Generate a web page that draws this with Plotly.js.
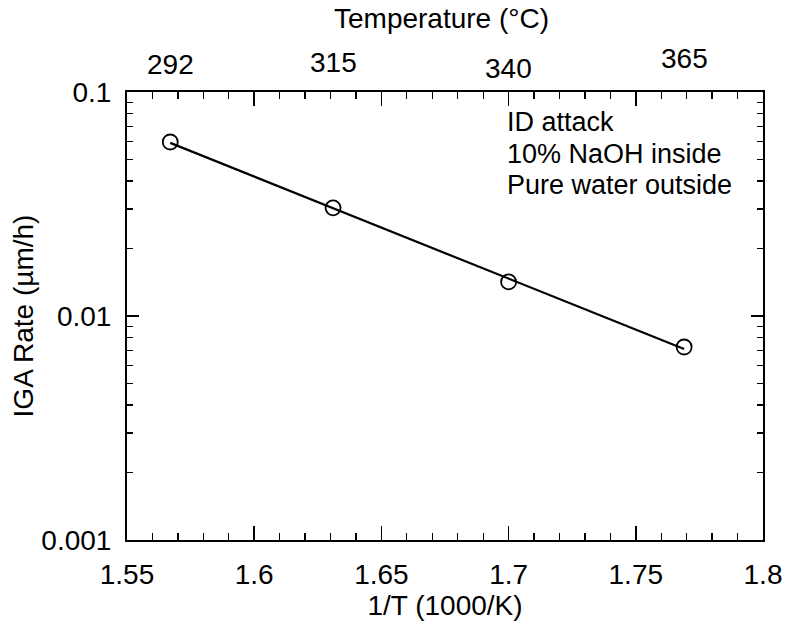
<!DOCTYPE html>
<html>
<head>
<meta charset="utf-8">
<script src="https://cdn.plot.ly/plotly-3.0.1.min.js"></script>
<style>html,body{margin:0;padding:0;background:#fff;}#chart{width:793px;height:625px;}</style>
</head>
<body>
<div id="chart"></div>
<script>
// Data
const invT = [1.567, 1.631, 1.700, 1.769];          // 1/T (1000/K)
const igaRate = [0.0598, 0.0304, 0.0142, 0.00727];   // IGA rate (µm/h)
const topTempLabels = ['292', '315', '340', '365'];  // labels on top axis, as printed
const xTickVals = [1.55, 1.6, 1.65, 1.7, 1.75, 1.8];
const xTickText = ['1.55', '1.6', '1.65', '1.7', '1.75', '1.8'];
const yTickVals = [0.001, 0.01, 0.1];
const yTickText = ['0.001', '0.01', '0.1'];
const yMinorVals = [0.002,0.003,0.004,0.005,0.006,0.007,0.008,0.009,0.02,0.03,0.04,0.05,0.06,0.07,0.08,0.09];
const noteLines = ['ID attack', '10% NaOH inside', 'Pure water outside'];

// log-linear least squares fit line
const ly = igaRate.map(v => Math.log10(v));
const n = invT.length;
const mx = invT.reduce((a,b)=>a+b,0)/n, my = ly.reduce((a,b)=>a+b,0)/n;
let sxy = 0, sxx = 0;
for (let i=0;i<n;i++){ sxy += (invT[i]-mx)*(ly[i]-my); sxx += (invT[i]-mx)**2; }
const slope = sxy/sxx, icpt = my - slope*mx;
const fitX = [Math.min(...invT), Math.max(...invT)];
const fitY = fitX.map(x => Math.pow(10, icpt + slope*x));

const font = 'Liberation Sans, Arial, Helvetica, sans-serif';
const FS = 28;
const traces = [
  {x: fitX, y: fitY, mode: 'lines', line: {color: '#000', width: 2.2}, hoverinfo: 'skip', showlegend: false},
  {x: invT, y: igaRate, mode: 'markers', marker: {symbol: 'circle-open', size: 15, color: '#000', line: {width: 1.8, color: '#000'}}, showlegend: false}
];

const L = 127, R = 30, T = 92, B = 85, W = 793, H = 625;
const pw = W - L - R, ph = H - T - B;

const topLabelShift = [28, 30, 24, 34];   // slight vertical jitter of printed labels
const annotations = topTempLabels.map((t, i) => ({
  x: invT[i], xref: 'x', y: 1, yref: 'paper', yshift: topLabelShift[i], text: t, showarrow: false,
  font: {family: font, size: FS, color: '#000'}, xanchor: 'center', yanchor: 'middle'
}));
const noteY = [122, 154, 185];
noteLines.forEach((t, i) => annotations.push({
  x: (505 - L) / pw, xref: 'paper', y: 1 - (noteY[i] - T) / ph, yref: 'paper', text: t, showarrow: false,
  font: {family: font, size: 27, color: '#000'}, xanchor: 'left', yanchor: 'middle'
}));
annotations.push({
  x: 0.495, xref: 'paper', y: 1, yref: 'paper', yshift: 74, text: 'Temperature (°C)', showarrow: false,
  font: {family: font, size: FS, color: '#000'}, xanchor: 'center', yanchor: 'middle'
});

const layout = {
  width: W, height: H,
  margin: {l: L, r: R, t: T, b: B, pad: 0},
  paper_bgcolor: '#fff', plot_bgcolor: '#fff',
  font: {family: font, size: FS, color: '#000'},
  showlegend: false,
  xaxis: {
    range: [1.55, 1.8], tickmode: 'array', tickvals: xTickVals, ticktext: xTickText,
    ticks: 'inside', ticklen: 14, tickwidth: 1.5, tickcolor: '#000',
    showline: true, linecolor: '#000', linewidth: 2, mirror: 'allticks',
    showgrid: false, zeroline: false, ticklabelstandoff: 8,
    tickfont: {family: font, size: FS, color: '#000'},
    minor: {dtick: 0.01, tick0: 1.55, ticks: 'inside', ticklen: 7, tickwidth: 1.3, tickcolor: '#000', showgrid: false},
    title: {text: '1/T (1000/K)', font: {family: font, size: FS, color: '#000'}, standoff: 0}
  },
  yaxis: {
    type: 'log', range: [-3, -1], tickmode: 'array', tickvals: yTickVals, ticktext: yTickText,
    ticks: 'inside', ticklen: 12, tickwidth: 1.5, tickcolor: '#000',
    showline: true, linecolor: '#000', linewidth: 2, mirror: 'allticks',
    showgrid: false, zeroline: false, ticklabelstandoff: 8,
    tickfont: {family: font, size: FS, color: '#000'},
    minor: {tickmode: 'array', tickvals: yMinorVals, ticks: 'inside', ticklen: 6, tickwidth: 1.3, tickcolor: '#000', showgrid: false},
    title: {text: 'IGA Rate (µm/h)', font: {family: font, size: FS, color: '#000'}, standoff: 0}
  },
  annotations: annotations
};

Plotly.newPlot('chart', traces, layout, {displayModeBar: false, staticPlot: true});
</script>
</body>
</html>
